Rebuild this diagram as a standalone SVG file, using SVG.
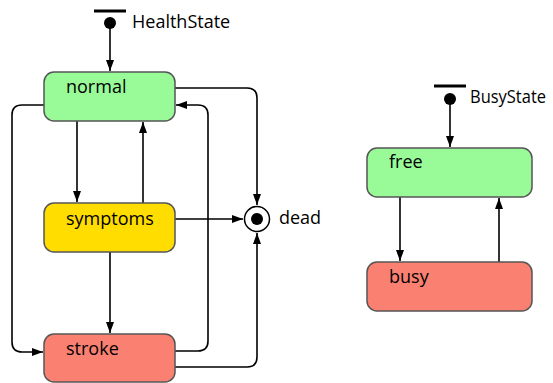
<svg xmlns="http://www.w3.org/2000/svg" width="553" height="383" viewBox="0 0 553 383">
<defs>
<style>
.st{stroke:#555;stroke-width:1.5}
.lbl{font-family:"Open Sans","Noto Sans","DejaVu Sans",sans-serif;font-size:18px;fill:#000}
.e{fill:none;stroke:#000;stroke-width:1.6}
</style>
<marker id="ah" viewBox="0 0 11 8" refX="11" refY="4" markerWidth="11" markerHeight="8.5" markerUnits="userSpaceOnUse" orient="auto">
<path d="M0,0 L11,4 L0,8 Z" fill="#000"/>
</marker>
</defs>
<rect width="553" height="383" fill="#fff"/>
<g id="connectors">
<path class="e" d="M110,23 V71" marker-end="url(#ah)"/>
<path class="e" d="M77,121 V202" marker-end="url(#ah)"/>
<path class="e" d="M143,203 V122" marker-end="url(#ah)"/>
<path class="e" d="M110,252 V333" marker-end="url(#ah)"/>
<path class="e" d="M175,219 H243" marker-end="url(#ah)"/>
<path class="e" d="M44,105 H22 Q12,105 12,115 V342 Q12,352 22,352 H43" marker-end="url(#ah)"/>
<path class="e" d="M175,351 H198 Q208,351 208,341 V115 Q208,105 198,105 H176" marker-end="url(#ah)"/>
<path class="e" d="M175,88 H247 Q257,88 257,98 V205" marker-end="url(#ah)"/>
<path class="e" d="M175,367 H247 Q257,367 257,357 V233" marker-end="url(#ah)"/>
<path class="e" d="M450,99 V147" marker-end="url(#ah)"/>
<path class="e" d="M400,197 V261" marker-end="url(#ah)"/>
<path class="e" d="M499,262 V198" marker-end="url(#ah)"/>
</g>
<g id="init-health">
<line x1="94" y1="11" x2="126" y2="11" stroke="#000" stroke-width="3"/>
<circle cx="110" cy="23" r="6" fill="#000"/>
<text class="lbl" x="132" y="28">HealthState</text>
</g>
<g id="normal">
<rect class="st" x="44" y="72" width="131" height="49" rx="10" fill="#98FB98"/>
<text class="lbl" x="66" y="93">normal</text>
</g>
<g id="symptoms">
<rect class="st" x="44" y="203" width="131" height="49" rx="10" fill="#FFDD00"/>
<text class="lbl" x="66" y="225">symptoms</text>
</g>
<g id="stroke">
<rect class="st" x="44" y="334" width="131" height="48" rx="10" fill="#FA8072"/>
<text class="lbl" x="66" y="355">stroke</text>
</g>
<g id="dead">
<circle cx="257" cy="219" r="12.5" fill="#fff" stroke="#000" stroke-width="1.5"/>
<circle cx="257" cy="219" r="6" fill="#000"/>
<text class="lbl" x="279" y="224">dead</text>
</g>
<g id="init-busy">
<line x1="434" y1="86" x2="466" y2="86" stroke="#000" stroke-width="3"/>
<circle cx="450" cy="99" r="6" fill="#000"/>
<text class="lbl" x="470" y="103" textLength="76" lengthAdjust="spacingAndGlyphs">BusyState</text>
</g>
<g id="free">
<rect class="st" x="367" y="148" width="165" height="49" rx="10" fill="#98FB98"/>
<text class="lbl" x="389" y="168">free</text>
</g>
<g id="busy">
<rect class="st" x="367" y="262" width="165" height="49" rx="10" fill="#FA8072"/>
<text class="lbl" x="389" y="283">busy</text>
</g>
</svg>
